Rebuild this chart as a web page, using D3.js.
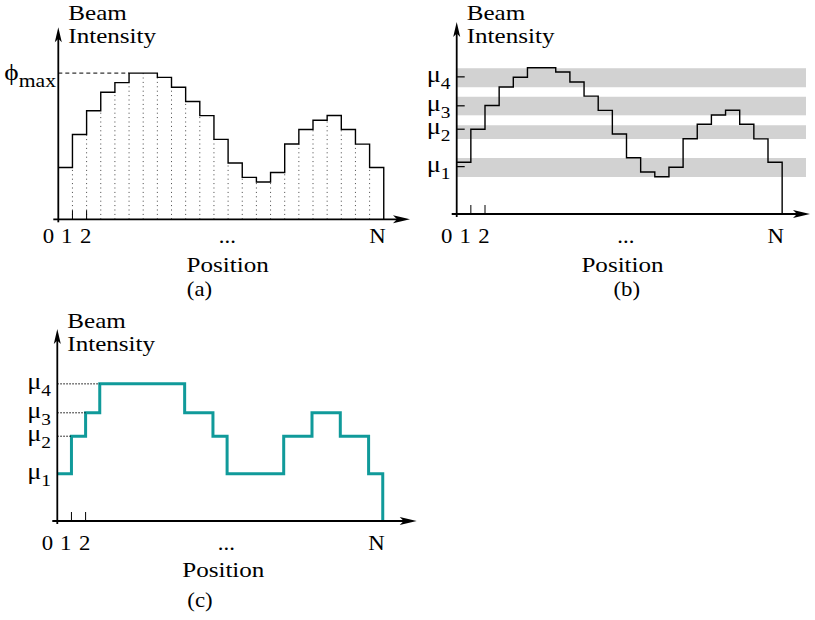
<!DOCTYPE html>
<html>
<head>
<meta charset="utf-8">
<script src="https://cdn.jsdelivr.net/npm/d3@7"></script>
</head>
<body style="margin:0;background:#fff">
<svg id="chart" width="815" height="620"></svg>
<script>

// beam intensity per position (phi_max = 100)
var intensity = [35.4, 58.0, 74.2, 86.9, 93.5, 100, 100, 97.1, 90.3, 80.6, 70.9, 54.7,
                 38.5, 28.7, 25.5, 32.0, 51.5, 61.4, 67.7, 71.0, 61.4, 51.4, 35.4];
var phiMax = 100;

// intensity levels mu_1..mu_4 and the bands around them
var muLevels = [32.4, 58.0, 74.0, 93.8];
var muBands = [[25.3, 38.3], [51.3, 60.7], [67.5, 80.2], [86.7, 99.7]];
var muNames = ["1", "2", "3", "4"];

// level (1..4) given to each position in the stepped profile
var quantized = [1, 2, 3, 4, 4, 4, 4, 4, 4, 3, 3, 2, 1, 1, 1, 1, 2, 2, 3, 3, 2, 2, 1];

// x tick labels and where they sit (in position units)
var tickLabels = ["0", "1", "2", "...", "N"];
var tickAt = [-0.7, 0.6, 1.93, 11.95, 22.55];
var tickMarks = [1, 2];

var N = intensity.length;
var binW = 14.15, unitH = 1.462;
var teal = "#109a9a";
var sx = 1.14; // the figure's lettering is a bit wide

var svg = d3.select("#chart");

var panels = [
	{ name: "(a)", x0: 58.3, y0: 219.3, tip: 351.7, beamY: 20, posY: 271.7, tickY: 243, capY: 296, capX: 199.5, posX: 227.7 },
	{ name: "(b)", x0: 456.7, y0: 214, tip: 353.3, beamY: 20, posY: 271.7, tickY: 243, capY: 296, capX: 626.7, posX: 622.5 },
	{ name: "(c)", x0: 57.3, y0: 521, tip: 359.4, beamY: 328, posY: 576.7, tickY: 550, capY: 607, capX: 200, posX: 223.3 }
];

function label(g, x, y, str, size, anchor) {
	return g.append("text")
		.attr("transform", "translate(" + x + "," + y + ") scale(" + sx + ",1)")
		.attr("text-anchor", anchor || "start")
		.attr("font-family", "Liberation Serif")
		.attr("font-size", size)
		.attr("fill", "#000")
		.text(str);
}

function arrowX(g, x, y) {
	g.append("path").attr("d", "M" + x + "," + y + "l-17,-4l4,4l-4,4z").style("fill", "#000");
}
function arrowY(g, x, y) {
	g.append("path").attr("d", "M" + x + "," + y + "l-3.5,15l3.5,-3.5l3.5,3.5z").style("fill", "#000");
}

panels.forEach(function (p, k) {
	var g = svg.append("g");
	var X = d3.scaleLinear().domain([0, N]).range([p.x0, p.x0 + N * binW]);
	var Y = d3.scaleLinear().domain([0, 100]).range([p.y0, p.y0 - 100 * unitH]);

	// grey bands (b)
	if (k == 1) {
		g.selectAll(".band").data(muBands).enter().append("rect")
			.attr("class", "band")
			.attr("x", X(0)).attr("width", 349.3)
			.attr("y", function (d) { return Y(d[1]); })
			.attr("height", function (d) { return Y(d[0]) - Y(d[1]); })
			.style("fill", "#d2d2d2");
	}

	// dotted columns and phi_max (a)
	if (k == 0) {
		g.selectAll(".col").data(d3.range(1, N)).enter().append("line")
			.attr("class", "col")
			.attr("x1", function (i) { return X(i); }).attr("x2", function (i) { return X(i); })
			.attr("y1", Y(0))
			.attr("y2", function (i) { return Y(Math.min(intensity[i - 1], intensity[i])); })
			.style("stroke", "#444").style("stroke-width", 1).style("stroke-dasharray", "1,3.4");
		g.append("line")
			.attr("x1", X(0)).attr("x2", X(intensity.indexOf(phiMax)))
			.attr("y1", Y(phiMax)).attr("y2", Y(phiMax))
			.style("stroke", "#000").style("stroke-width", 1).style("stroke-dasharray", "4,3");
		var ph = label(g, p.x0 - 54, Y(phiMax) + 7, "ϕ", 24);
		ph.append("tspan").attr("dy", 7).attr("font-size", 19).text("max");
	}

	// step outline
	var pts, vals = k == 2 ? quantized.map(function (q) { return muLevels[q - 1]; }) : intensity;
	pts = vals.map(function (v, i) { return [i, v]; });
	pts.push([N, vals[N - 1]], [N, 0]);
	var line = d3.line().curve(d3.curveStepAfter)
		.x(function (d) { return X(d[0]); }).y(function (d) { return Y(d[1]); });
	g.append("path").attr("d", line(pts))
		.style("fill", "none")
		.style("stroke", k == 2 ? teal : "#000")
		.style("stroke-width", k == 2 ? 3 : 1.4)
		.style("stroke-linejoin", "miter");

	// mu guides
	if (k == 1) {
		g.selectAll(".mut").data(muLevels).enter().append("line")
			.attr("x1", X(0)).attr("x2", X(0) + 8)
			.attr("y1", function (d) { return Y(d); }).attr("y2", function (d) { return Y(d); })
			.style("stroke", "#000").style("stroke-width", 1.2);
	}
	if (k == 2) {
		// dotted line from the axis to where each level is first reached
		muLevels.forEach(function (m, j) {
			var first = quantized.indexOf(j + 1);
			if (first < 1) return;
			g.append("line")
				.attr("x1", X(0)).attr("x2", X(first))
				.attr("y1", Y(m)).attr("y2", Y(m))
				.style("stroke", "#000").style("stroke-width", 1).style("stroke-dasharray", "1.5,1.5");
		});
	}
	if (k > 0) {
		muLevels.forEach(function (m, j) {
			var t = label(g, p.x0 - 30, Y(m) + 5, "μ", 23);
			t.append("tspan").attr("dy", 7).attr("font-size", 17).text(muNames[j]);
		});
	}

	// axes
	g.append("line").attr("x1", p.x0 - 5).attr("x2", p.x0 + p.tip - 10)
		.attr("y1", p.y0).attr("y2", p.y0)
		.style("stroke", "#000").style("stroke-width", 1.8);
	arrowX(g, p.x0 + p.tip, p.y0);
	g.append("line").attr("x1", p.x0).attr("x2", p.x0)
		.attr("y1", p.y0 + 3).attr("y2", p.y0 - 182)
		.style("stroke", "#000").style("stroke-width", 1.8);
	arrowY(g, p.x0, p.y0 - 192);

	g.selectAll(".tm").data(tickMarks).enter().append("line")
		.attr("x1", function (d) { return X(d); }).attr("x2", function (d) { return X(d); })
		.attr("y1", p.y0).attr("y2", p.y0 - 9)
		.style("stroke", "#000").style("stroke-width", 1);

	tickLabels.forEach(function (s, i) {
		label(g, X(tickAt[i]), p.tickY, s, 20, "middle");
	});

	label(g, p.x0 + 10, p.beamY, "Beam", 22);
	label(g, p.x0 + 10, p.beamY + 23, "Intensity", 22);
	label(g, p.posX, p.posY, "Position", 22, "middle");
	label(g, p.capX, p.capY, p.name, 20, "middle");
});

</script>
</body>
</html>
